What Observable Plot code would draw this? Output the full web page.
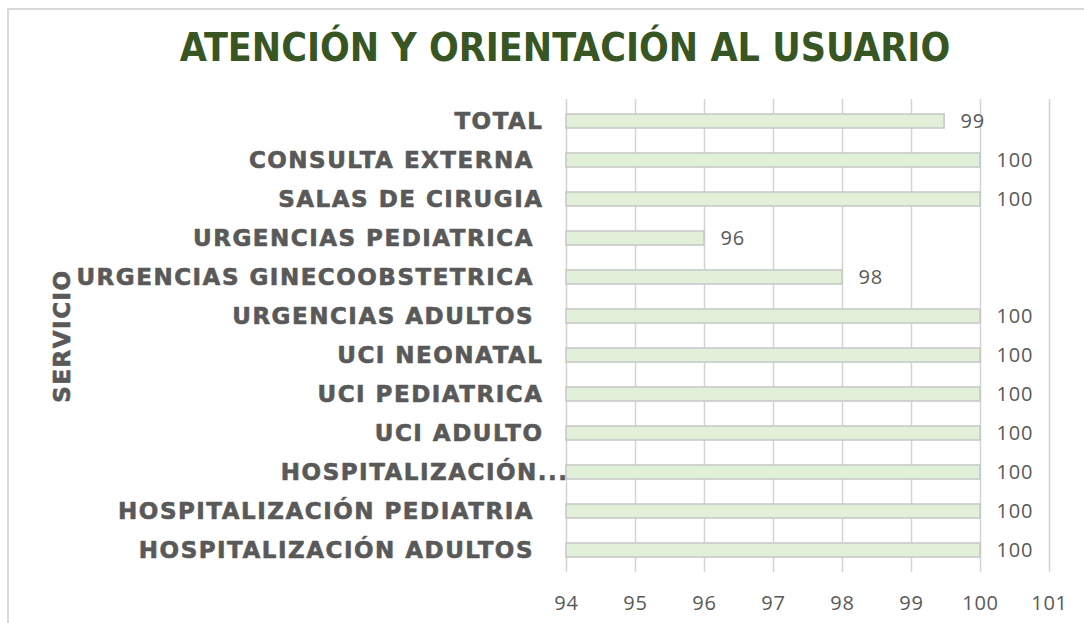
<!DOCTYPE html>
<html>
<head>
<meta charset="utf-8">
<script src="https://cdn.jsdelivr.net/npm/d3@7"></script>
<script src="https://cdn.jsdelivr.net/npm/@observablehq/plot@0.6"></script>
<style>
  html, body { margin: 0; padding: 0; background: #fff; }
  body { width: 1084px; height: 623px; overflow: hidden; position: relative; }
  #frame { position: absolute; left: 7px; top: 8px; width: 1100px; height: 700px; border: 2px solid #d9d9d9; box-sizing: border-box; pointer-events: none; }
  #title { position: relative; height: 90px; box-sizing: border-box; padding-top: 29px; padding-left: 46px; text-align: center;
    font-family: "DejaVu Sans Condensed", "DejaVu Sans", sans-serif; font-stretch: condensed; font-weight: bold; font-size: 39px; line-height: 38px; color: #375623; }
  #chart svg text { white-space: pre; }
</style>
</head>
<body>
<div id="frame"></div>
<div id="title">ATENCIÓN Y ORIENTACIÓN AL USUARIO</div>
<div id="chart"></div>
<script>
const servicios = [
  "TOTAL",
  "CONSULTA EXTERNA ",
  "SALAS DE CIRUGIA",
  "URGENCIAS PEDIATRICA ",
  "URGENCIAS GINECOOBSTETRICA ",
  "URGENCIAS ADULTOS ",
  "UCI NEONATAL",
  "UCI PEDIATRICA",
  "UCI ADULTO",
  "HOSPITALIZACIÓN...",
  "HOSPITALIZACIÓN PEDIATRIA ",
  "HOSPITALIZACIÓN ADULTOS "
];
const valores = [99.48, 100, 100, 96, 98, 100, 100, 100, 100, 100, 100, 100];
const xTicks = [94, 95, 96, 97, 98, 99, 100, 101];
const yTitle = "SERVICIO";

const data = servicios.map((s, i) => ({servicio: s, valor: valores[i]}));
const isTrunc = d => d.servicio.endsWith("...");
const gray = "#595959";
const labelFont = "DejaVu Sans, sans-serif";
const boldStyle = {fill: gray, stroke: gray, strokeWidth: 0.6, fontSize: 23, fontWeight: "bold", fontFamily: labelFont};

const chart = Plot.plot({
  width: 1084,
  height: 533,
  marginTop: 9,
  marginBottom: 51,
  marginLeft: 566,
  marginRight: 35,
  x: {domain: [xTicks[0], xTicks[xTicks.length - 1]], ticks: xTicks, label: null},
  y: {domain: servicios, paddingInner: 0.645, paddingOuter: 0.3225, axis: null, label: null},
  marks: [
    Plot.ruleX(xTicks, {stroke: "#d4d4d4", strokeWidth: 1.5}),
    Plot.barX(data, {y: "servicio", x1: () => xTicks[0], x2: "valor", fill: "#e2efd9", stroke: "#c6c6c6", strokeWidth: 1.5}),
    Plot.text(data, {x: "valor", y: "servicio", text: d => d3.format(".0f")(d.valor), dx: 16, textAnchor: "start",
      fill: gray, fontSize: 20, fontFamily: "Open Sans, sans-serif", className: "num"}),
    Plot.text(data.filter(d => !isTrunc(d)), {y: "servicio", frameAnchor: "left", text: "servicio", textAnchor: "end", dx: -23, ...boldStyle}),
    Plot.text(data.filter(isTrunc), {y: "servicio", frameAnchor: "left", text: "servicio", textAnchor: "end", dx: 2, ...boldStyle}),
    Plot.text([yTitle], {frameAnchor: "left", text: d => d, rotate: -90, dx: -504, textAnchor: "middle", ...boldStyle}),
    Plot.axisX({ticks: xTicks, tickSize: 0, tickPadding: 23, fontSize: 20, fill: gray, fontFamily: "Open Sans, sans-serif", tickFormat: d3.format("d"), label: null, className: "num"})
  ],
  style: {fontFamily: "Open Sans, sans-serif", color: gray, background: "transparent", overflow: "visible"}
});
document.getElementById("chart").appendChild(chart);
chart.querySelectorAll("g[font-weight='bold'] text, text[font-weight='bold']").forEach(t => {
  t.style.letterSpacing = "1.5px";
});
chart.querySelectorAll("[class*='num'] text").forEach(t => {
  t.style.letterSpacing = "0.8px";
});
</script>
</body>
</html>
